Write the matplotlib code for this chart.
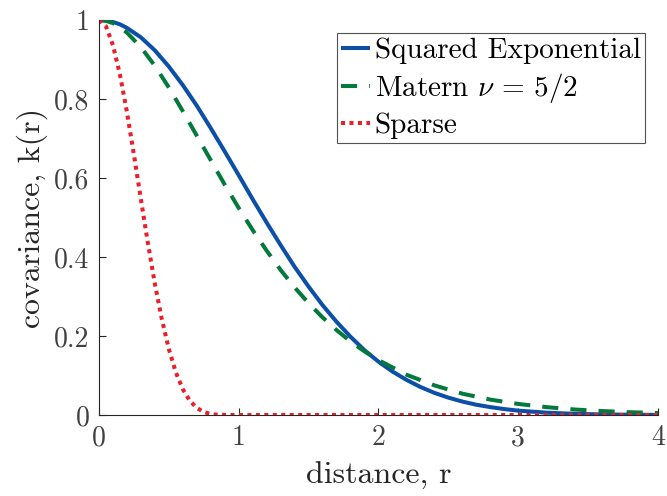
import matplotlib
matplotlib.use("Agg")
import matplotlib.pyplot as plt
from matplotlib.ticker import FuncFormatter

plt.rcParams['font.family'] = 'serif'
plt.rcParams['font.serif'] = ['cmr10']
plt.rcParams['mathtext.fontset'] = 'cm'
plt.rcParams['axes.unicode_minus'] = False
plt.rcParams['axes.formatter.use_mathtext'] = True

# Distance grid (r) and curve values
r_se = [0.0, 0.05, 0.1, 0.15, 0.2, 0.3, 0.4, 0.5, 0.6, 0.7, 0.8, 0.9, 1.0, 1.1, 1.2,
        1.3, 1.4, 1.5, 1.6, 1.7, 1.8, 1.9, 2.0, 2.1, 2.2, 2.3, 2.4, 2.5, 2.6, 2.7,
        2.8, 2.9, 3.0, 3.2, 3.4, 3.6, 3.8, 4.0]
k_se = [1.0, 0.9988, 0.995, 0.989, 0.980, 0.956, 0.923, 0.882, 0.835, 0.783, 0.726,
        0.667, 0.607, 0.546, 0.487, 0.430, 0.375, 0.325, 0.278, 0.236, 0.198, 0.164,
        0.135, 0.110, 0.089, 0.071, 0.056, 0.044, 0.034, 0.026, 0.020, 0.015, 0.011,
        0.006, 0.003, 0.0015, 0.0007, 0.0003]

r_mat = [0.0, 0.05, 0.1, 0.15, 0.2, 0.3, 0.4, 0.5, 0.6, 0.7, 0.8, 0.9, 1.0, 1.1, 1.2,
         1.3, 1.4, 1.5, 1.6, 1.7, 1.8, 1.9, 2.0, 2.2, 2.4, 2.6, 2.8, 3.0, 3.2, 3.4,
         3.6, 3.8, 4.0]
k_mat = [1.0, 0.998, 0.992, 0.982, 0.968, 0.931, 0.884, 0.829, 0.769, 0.707, 0.645,
         0.583, 0.524, 0.468, 0.416, 0.367, 0.323, 0.283, 0.247, 0.215, 0.186, 0.161,
         0.139, 0.102, 0.075, 0.054, 0.039, 0.028, 0.020, 0.014, 0.010, 0.007, 0.005]

r_sp = [0.0, 0.05, 0.1, 0.15, 0.2, 0.25, 0.3, 0.35, 0.4, 0.45, 0.5, 0.55, 0.6, 0.65,
        0.7, 0.75, 0.8, 0.85, 0.9, 0.95, 1.0, 2.0, 3.0, 4.0]
k_sp = [1.0, 0.984, 0.936, 0.862, 0.767, 0.659, 0.546, 0.435, 0.332, 0.242, 0.167,
        0.108, 0.065, 0.036, 0.018, 0.0075, 0.0025, 0.0006, 0.0001, 0.0, 0.0, 0.0,
        0.0, 0.0]

labels = ['Squared Exponential', r'Matern $\nu\,=\,5/2$', 'Sparse']
colors = ['#0c4fa8', '#037a3c', '#ea1f2a']

fig = plt.figure(figsize=(6.67, 4.96), dpi=100)
ax = fig.add_axes([0.1484, 0.1633, 0.8381, 0.7964])

ax.plot(r_se, k_se, color=colors[0], lw=2.9, label=labels[0], solid_capstyle='butt')
ax.plot(r_mat, k_mat, color=colors[1], lw=2.9, dashes=(4.0, 3.0),
        dash_capstyle='butt', label=labels[1])
ax.plot(r_sp, k_sp, color=colors[2], lw=2.9, dashes=(1.0, 1.1),
        dash_capstyle='butt', label=labels[2])

ax.set_xlim(0, 4)
ax.set_ylim(0, 1)
ax.set_xticks([0, 1, 2, 3, 4])
ax.set_yticks([0, 0.2, 0.4, 0.6, 0.8, 1])
ax.xaxis.set_major_formatter(FuncFormatter(lambda v, p: '%g' % v))
ax.yaxis.set_major_formatter(FuncFormatter(lambda v, p: '%g' % v))

for s in ['top', 'right']:
    ax.spines[s].set_visible(False)
for s in ['left', 'bottom']:
    ax.spines[s].set_color('#262626')
    ax.spines[s].set_linewidth(0.8)
ax.tick_params(direction='in', length=5, width=0.8, colors='#262626',
               labelcolor='#404040', labelsize=20, pad=7)

ax.set_xlabel('distance, r', fontsize=23, color='#262626', labelpad=8)
ax.set_ylabel('covariance, k(r)', fontsize=23, color='#262626', labelpad=4)

leg = ax.legend(loc='upper right', bbox_to_anchor=(0.977, 0.967), fontsize=21,
                frameon=True, fancybox=False, edgecolor='#262626',
                handlelength=1.0, handletextpad=0.15, borderpad=0.15,
                labelspacing=0.25, borderaxespad=0)
leg.get_frame().set_linewidth(0.8)

fig.savefig('out.png', dpi=100)
